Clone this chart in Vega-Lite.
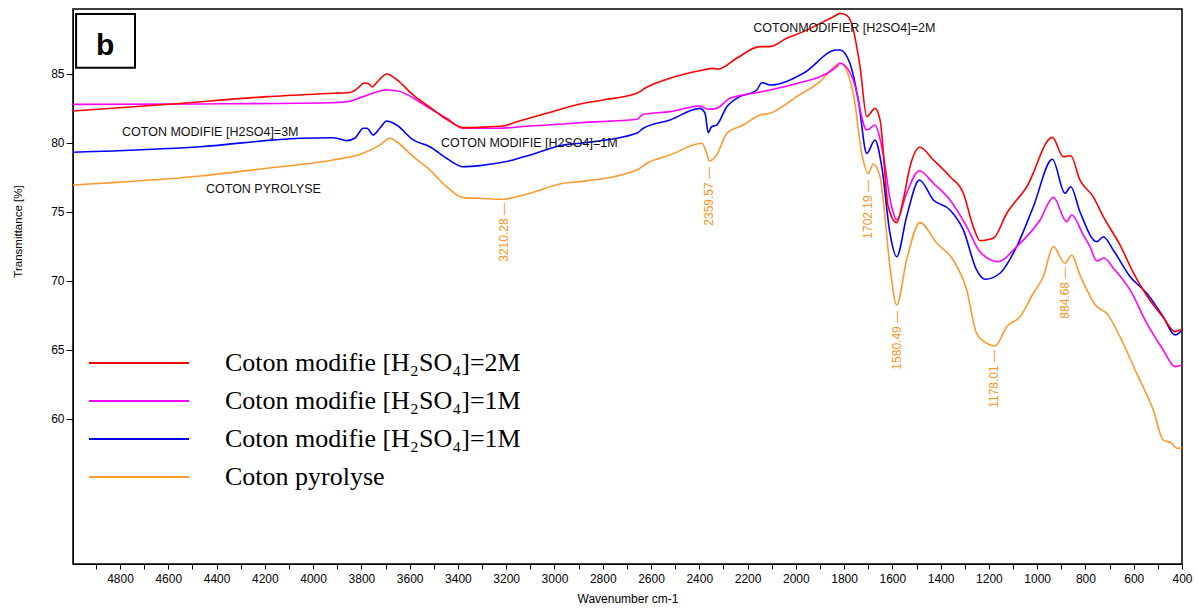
{
  "$schema": "https://vega.github.io/schema/vega-lite/v6.json",
  "width": 1109,
  "height": 555,
  "autosize": {"type": "none"},
  "padding": {"left": 73, "top": 9, "right": 16, "bottom": 44},
  "background": "white",
  "config": {
    "view": {"stroke": "#000", "strokeWidth": 1.5},
    "font": "Liberation Sans"
  },
  "datasets": {
    "curves": [
      {"series":"pyro","wn":4995,"t":76.96},{"series":"pyro","wn":4469,"t":77.61},{"series":"pyro","wn":4191,"t":78.17},{"series":"pyro","wn":3918,"t":78.77},{"series":"pyro","wn":3792,"t":79.25},{"series":"pyro","wn":3723,"t":79.86},{"series":"pyro","wn":3681,"t":80.34},{"series":"pyro","wn":3654,"t":80.09},{"series":"pyro","wn":3585,"t":79.01},{"series":"pyro","wn":3516,"t":78.04},{"series":"pyro","wn":3447,"t":76.83},{"series":"pyro","wn":3378,"t":76.04},{"series":"pyro","wn":3309,"t":75.99},{"series":"pyro","wn":3212,"t":75.92},{"series":"pyro","wn":3157,"t":76.11},{"series":"pyro","wn":3101,"t":76.36},{"series":"pyro","wn":2963,"t":77.08},{"series":"pyro","wn":2894,"t":77.2},{"series":"pyro","wn":2659,"t":78.04},{"series":"pyro","wn":2618,"t":78.53},{"series":"pyro","wn":2521,"t":79.13},{"series":"pyro","wn":2390,"t":79.98},{"series":"pyro","wn":2369,"t":79.25},{"series":"pyro","wn":2359,"t":78.7},{"series":"pyro","wn":2328,"t":79.13},{"series":"pyro","wn":2286,"t":80.7},{"series":"pyro","wn":2218,"t":81.3},{"series":"pyro","wn":2148,"t":82.03},{"series":"pyro","wn":2107,"t":82.15},{"series":"pyro","wn":1996,"t":83.36},{"series":"pyro","wn":1900,"t":84.44},{"series":"pyro","wn":1831,"t":85.65},{"series":"pyro","wn":1817,"t":85.78},{"series":"pyro","wn":1762,"t":83.6},{"series":"pyro","wn":1727,"t":79.25},{"series":"pyro","wn":1700,"t":77.8},{"series":"pyro","wn":1679,"t":78.48},{"series":"pyro","wn":1651,"t":77.56},{"series":"pyro","wn":1638,"t":75.87},{"series":"pyro","wn":1610,"t":71.04},{"series":"pyro","wn":1582,"t":68.26},{"series":"pyro","wn":1541,"t":71.52},{"series":"pyro","wn":1486,"t":74.23},{"series":"pyro","wn":1416,"t":72.73},{"series":"pyro","wn":1348,"t":71.52},{"series":"pyro","wn":1292,"t":69.35},{"series":"pyro","wn":1251,"t":66.21},{"series":"pyro","wn":1209,"t":65.49},{"series":"pyro","wn":1175,"t":65.29},{"series":"pyro","wn":1126,"t":66.69},{"series":"pyro","wn":1071,"t":67.41},{"series":"pyro","wn":1016,"t":69.11},{"series":"pyro","wn":975,"t":70.31},{"series":"pyro","wn":933,"t":72.49},{"series":"pyro","wn":885,"t":71.28},{"series":"pyro","wn":857,"t":71.88},{"series":"pyro","wn":823,"t":70.44},{"series":"pyro","wn":753,"t":68.14},{"series":"pyro","wn":712,"t":67.66},{"series":"pyro","wn":657,"t":65.96},{"series":"pyro","wn":588,"t":63.31},{"series":"pyro","wn":519,"t":60.65},{"series":"pyro","wn":478,"t":58.48},{"series":"pyro","wn":443,"t":58.24},{"series":"pyro","wn":422,"t":57.88},{"series":"pyro","wn":400,"t":57.92},
      {"series":"3M","wn":4995,"t":79.33},{"series":"3M","wn":4469,"t":79.73},{"series":"3M","wn":4054,"t":80.34},{"series":"3M","wn":3918,"t":80.38},{"series":"3M","wn":3889,"t":80.29},{"series":"3M","wn":3860,"t":80.17},{"series":"3M","wn":3826,"t":80.36},{"series":"3M","wn":3792,"t":81.07},{"series":"3M","wn":3777,"t":81.07},{"series":"3M","wn":3751,"t":80.58},{"series":"3M","wn":3723,"t":81.09},{"series":"3M","wn":3695,"t":81.59},{"series":"3M","wn":3654,"t":81.3},{"series":"3M","wn":3585,"t":80.22},{"series":"3M","wn":3516,"t":79.73},{"series":"3M","wn":3447,"t":78.89},{"series":"3M","wn":3378,"t":78.28},{"series":"3M","wn":3309,"t":78.36},{"series":"3M","wn":3239,"t":78.53},{"series":"3M","wn":3171,"t":78.77},{"series":"3M","wn":3101,"t":79.13},{"series":"3M","wn":2963,"t":79.86},{"series":"3M","wn":2894,"t":79.98},{"series":"3M","wn":2659,"t":80.7},{"series":"3M","wn":2632,"t":81.07},{"series":"3M","wn":2521,"t":81.67},{"series":"3M","wn":2397,"t":82.51},{"series":"3M","wn":2376,"t":82.15},{"series":"3M","wn":2363,"t":80.75},{"series":"3M","wn":2349,"t":81.18},{"series":"3M","wn":2328,"t":81.3},{"series":"3M","wn":2286,"t":82.63},{"series":"3M","wn":2245,"t":83.24},{"series":"3M","wn":2162,"t":83.84},{"series":"3M","wn":2141,"t":84.37},{"series":"3M","wn":2107,"t":84.2},{"series":"3M","wn":1969,"t":85.05},{"series":"3M","wn":1831,"t":86.74},{"series":"3M","wn":1817,"t":86.74},{"series":"3M","wn":1776,"t":85.78},{"series":"3M","wn":1741,"t":83.12},{"series":"3M","wn":1706,"t":79.25},{"series":"3M","wn":1672,"t":80.22},{"series":"3M","wn":1644,"t":78.28},{"series":"3M","wn":1610,"t":73.46},{"series":"3M","wn":1582,"t":71.76},{"series":"3M","wn":1541,"t":74.66},{"series":"3M","wn":1488,"t":77.32},{"series":"3M","wn":1430,"t":75.87},{"series":"3M","wn":1361,"t":75.15},{"series":"3M","wn":1306,"t":73.7},{"series":"3M","wn":1251,"t":70.8},{"series":"3M","wn":1216,"t":70.12},{"series":"3M","wn":1154,"t":70.56},{"series":"3M","wn":1085,"t":72.49},{"series":"3M","wn":1016,"t":75.38},{"series":"3M","wn":937,"t":78.82},{"series":"3M","wn":885,"t":76.36},{"series":"3M","wn":861,"t":76.83},{"series":"3M","wn":823,"t":75.02},{"series":"3M","wn":753,"t":72.85},{"series":"3M","wn":726,"t":73.21},{"series":"3M","wn":685,"t":72.25},{"series":"3M","wn":615,"t":70.31},{"series":"3M","wn":546,"t":69.11},{"series":"3M","wn":478,"t":67.41},{"series":"3M","wn":429,"t":66.09},{"series":"3M","wn":400,"t":66.45},
      {"series":"1M","wn":4995,"t":82.8},{"series":"1M","wn":4469,"t":82.83},{"series":"1M","wn":3930,"t":82.92},{"series":"1M","wn":3860,"t":82.99},{"series":"1M","wn":3792,"t":83.36},{"series":"1M","wn":3695,"t":83.84},{"series":"1M","wn":3654,"t":83.79},{"series":"1M","wn":3516,"t":82.51},{"series":"1M","wn":3447,"t":81.79},{"series":"1M","wn":3378,"t":81.07},{"series":"1M","wn":3239,"t":81.07},{"series":"1M","wn":3101,"t":81.23},{"series":"1M","wn":2963,"t":81.38},{"series":"1M","wn":2894,"t":81.47},{"series":"1M","wn":2659,"t":81.72},{"series":"1M","wn":2632,"t":82.08},{"series":"1M","wn":2521,"t":82.27},{"series":"1M","wn":2397,"t":82.68},{"series":"1M","wn":2363,"t":82.44},{"series":"1M","wn":2328,"t":82.51},{"series":"1M","wn":2273,"t":83.24},{"series":"1M","wn":2176,"t":83.6},{"series":"1M","wn":2107,"t":83.84},{"series":"1M","wn":1969,"t":84.44},{"series":"1M","wn":1900,"t":84.8},{"series":"1M","wn":1831,"t":85.53},{"series":"1M","wn":1817,"t":85.78},{"series":"1M","wn":1762,"t":84.57},{"series":"1M","wn":1706,"t":80.94},{"series":"1M","wn":1672,"t":81.3},{"series":"1M","wn":1644,"t":79.73},{"series":"1M","wn":1603,"t":75.38},{"series":"1M","wn":1582,"t":74.42},{"series":"1M","wn":1541,"t":76.36},{"series":"1M","wn":1488,"t":77.99},{"series":"1M","wn":1430,"t":77.08},{"series":"1M","wn":1361,"t":75.87},{"series":"1M","wn":1292,"t":73.94},{"series":"1M","wn":1237,"t":72.12},{"series":"1M","wn":1161,"t":71.4},{"series":"1M","wn":1085,"t":72.49},{"series":"1M","wn":988,"t":74.42},{"series":"1M","wn":933,"t":76.07},{"series":"1M","wn":878,"t":74.3},{"series":"1M","wn":857,"t":74.78},{"series":"1M","wn":809,"t":73.33},{"series":"1M","wn":781,"t":72.49},{"series":"1M","wn":753,"t":71.45},{"series":"1M","wn":723,"t":71.67},{"series":"1M","wn":685,"t":70.94},{"series":"1M","wn":615,"t":69.35},{"series":"1M","wn":546,"t":66.94},{"series":"1M","wn":478,"t":65.0},{"series":"1M","wn":429,"t":63.79},{"series":"1M","wn":400,"t":63.91},
      {"series":"2M","wn":4995,"t":82.32},{"series":"2M","wn":4581,"t":82.83},{"series":"2M","wn":4191,"t":83.36},{"series":"2M","wn":3918,"t":83.6},{"series":"2M","wn":3847,"t":83.66},{"series":"2M","wn":3814,"t":83.99},{"series":"2M","wn":3789,"t":84.35},{"series":"2M","wn":3768,"t":84.28},{"series":"2M","wn":3756,"t":84.06},{"series":"2M","wn":3731,"t":84.49},{"series":"2M","wn":3694,"t":85.0},{"series":"2M","wn":3652,"t":84.57},{"series":"2M","wn":3586,"t":83.48},{"series":"2M","wn":3516,"t":82.59},{"series":"2M","wn":3447,"t":81.72},{"series":"2M","wn":3378,"t":81.11},{"series":"2M","wn":3309,"t":81.14},{"series":"2M","wn":3212,"t":81.23},{"series":"2M","wn":3157,"t":81.54},{"series":"2M","wn":3032,"t":82.15},{"series":"2M","wn":2894,"t":82.83},{"series":"2M","wn":2798,"t":83.12},{"series":"2M","wn":2659,"t":83.6},{"series":"2M","wn":2618,"t":84.04},{"series":"2M","wn":2521,"t":84.69},{"series":"2M","wn":2383,"t":85.29},{"series":"2M","wn":2342,"t":85.41},{"series":"2M","wn":2322,"t":85.34},{"series":"2M","wn":2245,"t":86.14},{"series":"2M","wn":2148,"t":86.98},{"series":"2M","wn":2107,"t":86.98},{"series":"2M","wn":2038,"t":87.59},{"series":"2M","wn":1969,"t":88.07},{"series":"2M","wn":1831,"t":89.28},{"series":"2M","wn":1817,"t":89.4},{"series":"2M","wn":1792,"t":89.28},{"series":"2M","wn":1769,"t":88.67},{"series":"2M","wn":1734,"t":85.53},{"series":"2M","wn":1706,"t":81.91},{"series":"2M","wn":1672,"t":82.51},{"series":"2M","wn":1651,"t":81.67},{"series":"2M","wn":1617,"t":75.38},{"series":"2M","wn":1582,"t":74.23},{"series":"2M","wn":1555,"t":75.87},{"series":"2M","wn":1527,"t":78.28},{"series":"2M","wn":1486,"t":79.69},{"series":"2M","wn":1430,"t":78.77},{"series":"2M","wn":1361,"t":77.56},{"series":"2M","wn":1306,"t":76.36},{"series":"2M","wn":1265,"t":73.94},{"series":"2M","wn":1237,"t":72.92},{"series":"2M","wn":1182,"t":73.09},{"series":"2M","wn":1126,"t":74.91},{"series":"2M","wn":1043,"t":76.83},{"series":"2M","wn":937,"t":80.41},{"series":"2M","wn":892,"t":79.01},{"series":"2M","wn":861,"t":79.08},{"series":"2M","wn":823,"t":77.32},{"series":"2M","wn":768,"t":76.11},{"series":"2M","wn":726,"t":74.66},{"series":"2M","wn":657,"t":72.61},{"series":"2M","wn":603,"t":70.65},{"series":"2M","wn":545,"t":68.91},{"series":"2M","wn":479,"t":67.39},{"series":"2M","wn":429,"t":66.33},{"series":"2M","wn":408,"t":66.45},{"series":"2M","wn":400,"t":66.45}
    ],
    "peaks": [
      {"wn":3210.28,"t":75.65,"label":"3210.28 —"},
      {"wn":2359.57,"t":78.26,"label":"2359.57 —"},
      {"wn":1702.19,"t":77.32,"label":"1702.19 —"},
      {"wn":1580.49,"t":67.83,"label":"1580.49 —"},
      {"wn":1178.01,"t":65.0,"label":"1178.01 —"},
      {"wn":884.68,"t":71.04,"label":"884.68 —"}
    ],
    "labels": [
      {"wn":4791.8,"t":80.8,"label":"COTON MODIFIE [H2SO4]=3M"},
      {"wn":4443.8,"t":76.65,"label":"COTON PYROLYSE"},
      {"wn":3470.1,"t":80.02,"label":"COTON MODIFIE [H2SO4]=1M"},
      {"wn":2176.2,"t":88.31,"label":"COTONMODIFIER [H2SO4]=2M"}
    ],
    "box": [
      {"wn":4982,"wn2":4738,"t":89.35,"t2":85.46}
    ],
    "panel": [
      {"wn":4862,"t":86.38,"label":"b"}
    ]
  },
  "encoding": {
    "x": {
      "field": "wn",
      "type": "quantitative",
      "scale": {"domain": [4994.8, 400], "nice": false, "zero": false},
      "axis": {
        "title": "Wavenumber cm-1",
        "values": [4900,4800,4700,4600,4500,4400,4300,4200,4100,4000,3900,3800,3700,3600,3500,3400,3300,3200,3100,3000,2900,2800,2700,2600,2500,2400,2300,2200,2100,2000,1900,1800,1700,1600,1500,1400,1300,1200,1100,1000,900,800,700,600,500,400],
        "format": "d",
        "labelExpr": "datum.value % 200 == 0 ? datum.label : ''",
        "labelFlush": false,
        "labelOverlap": false,
        "grid": false,
        "tickSize": 5,
        "tickColor": "#000",
        "domainColor": "#000",
        "labelColor": "#000",
        "labelFont": "Liberation Sans",
        "labelFontSize": 12,
        "labelPadding": 4,
        "titleFont": "Liberation Sans",
        "titleFontSize": 12,
        "titleFontWeight": "normal",
        "titleColor": "#000",
        "titlePadding": 9
      }
    },
    "y": {
      "field": "t",
      "type": "quantitative",
      "scale": {"domain": [49.49, 89.71], "nice": false, "zero": false},
      "axis": {
        "title": "Transmittance [%]",
        "values": [60,65,70,75,80,85],
        "grid": false,
        "tickSize": 7,
        "tickColor": "#000",
        "domainColor": "#000",
        "labelColor": "#000",
        "labelFont": "Liberation Sans",
        "labelFontSize": 12,
        "labelPadding": 2,
        "titleFont": "Liberation Sans",
        "titleFontSize": 11.5,
        "titleFontWeight": "normal",
        "titleColor": "#000",
        "titleX": -55,
        "titleY": 222,
        "titleBaseline": "middle"
      }
    }
  },
  "layer": [
    {
      "data": {"name": "box"},
      "mark": {"type": "rect", "fill": "white", "stroke": "#000", "strokeWidth": 2},
      "encoding": {"x2": {"field": "wn2"}, "y2": {"field": "t2"}}
    },
    {
      "data": {"name": "panel"},
      "mark": {"type": "text", "font": "Liberation Sans", "fontSize": 30, "fontWeight": "bold", "align": "center", "baseline": "alphabetic", "color": "#000"},
      "encoding": {"text": {"field": "label"}}
    },
    {
      "data": {"name": "curves"},
      "mark": {"type": "line", "strokeWidth": 1.6, "clip": true, "interpolate": "monotone"},
      "encoding": {
        "color": {
          "field": "series",
          "type": "nominal",
          "scale": {"domain": ["2M", "1M", "3M", "pyro"], "range": ["#ff0000", "#ff00ff", "#0000ff", "#fb9a30"]},
          "legend": {
            "orient": "none",
            "legendX": 15,
            "legendY": 339,
            "title": null,
            "padding": 0,
            "symbolType": "stroke",
            "symbolSize": 10000,
            "symbolStrokeWidth": 2,
            "clipHeight": 30,
            "rowPadding": 8,
            "labelFont": "Liberation Serif",
            "labelFontSize": 26,
            "labelColor": "#000",
            "labelOffset": 35,
            "labelLimit": 600,
            "labelExpr": "datum.value == '2M' ? 'Coton modifie [H₂SO₄]=2M' : datum.value == 'pyro' ? 'Coton pyrolyse' : 'Coton modifie [H₂SO₄]=1M'"
          }
        }
      }
    },
    {
      "data": {"name": "peaks"},
      "mark": {"type": "text", "angle": 270, "align": "right", "baseline": "middle", "color": "#f7941d", "font": "Liberation Sans Narrow, Liberation Sans, sans-serif", "fontSize": 12},
      "encoding": {"text": {"field": "label"}}
    },
    {
      "data": {"name": "labels"},
      "mark": {"type": "text", "align": "left", "baseline": "middle", "color": "#111", "font": "Liberation Sans", "fontSize": 12.5},
      "encoding": {"text": {"field": "label"}}
    }
  ]
}
